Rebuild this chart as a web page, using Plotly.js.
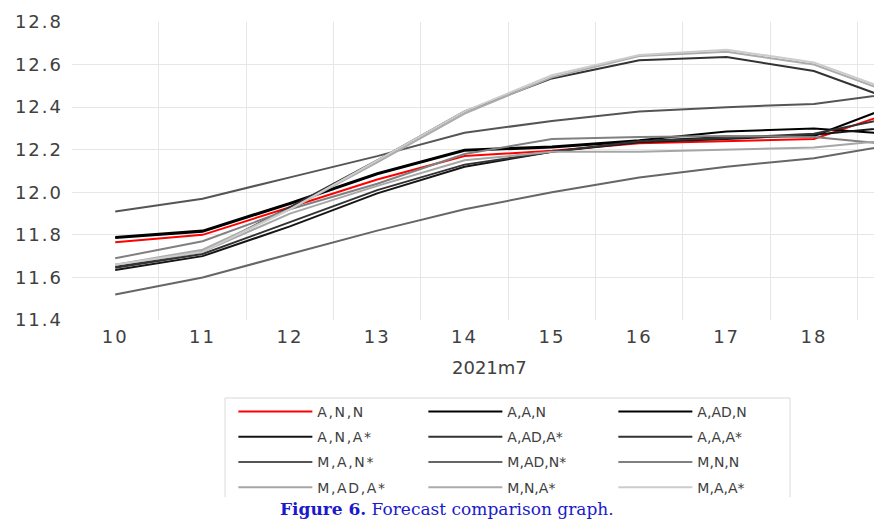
<!DOCTYPE html>
<html>
<head>
<meta charset="utf-8">
<script src="https://cdn.plot.ly/plotly-3.0.1.min.js"></script>
<style>
html,body{margin:0;padding:0;background:#fff;}
#chart{width:874px;height:519px;}
.legendtext{letter-spacing:1.6px;}
.ytick text{letter-spacing:2px;}
.xtick text{letter-spacing:2px;}
</style>
</head>
<body>
<div id="chart"></div>
<script>
// x positions (periods) – 19 lies just beyond the visible right edge
const periods = [10, 11, 12, 13, 14, 15, 16, 17, 18, 19];
const tickLabels = ['10', '11', '12', '13', '14', '15', '16', '17', '18'];
const seriesNames = ['A,N,N', 'A,A,N', 'A,AD,N', 'A,N,A*', 'A,AD,A*', 'A,A,A*',
                     'M,A,N*', 'M,AD,N*', 'M,N,N', 'M,AD,A*', 'M,N,A*', 'M,A,A*'];
const ANN   = [11.765, 11.80, 11.93, 12.06, 12.17, 12.195, 12.23, 12.24, 12.25, 12.39];
const AAN   = [11.79, 11.82, 11.95, 12.09, 12.20, 12.215, 12.245, 12.285, 12.30, 12.27];
const AADN  = [11.785, 11.815, 11.945, 12.085, 12.195, 12.21, 12.24, 12.26, 12.265, 12.42];
const ANAs  = [11.635, 11.70, 11.84, 11.995, 12.12, 12.19, 12.235, 12.25, 12.27, 12.31];
const AADAs = [11.645, 11.71, 11.86, 12.01, 12.13, 12.19, 12.24, 12.255, 12.275, 12.36];
const AAAs  = [11.65, 11.72, 11.93, 12.15, 12.38, 12.535, 12.62, 12.635, 12.57, 12.42];
const MANs  = [11.91, 11.97, 12.07, 12.17, 12.28, 12.335, 12.38, 12.40, 12.415, 12.47];
const MADNs = [11.52, 11.60, 11.71, 11.82, 11.92, 12.00, 12.07, 12.12, 12.16, 12.23];
const MNN   = [11.69, 11.77, 11.92, 12.04, 12.18, 12.25, 12.26, 12.265, 12.26, 12.22];
const MADAs = [11.66, 11.72, 11.90, 12.03, 12.15, 12.19, 12.19, 12.20, 12.21, 12.25];
const MNAs  = [11.66, 11.73, 11.92, 12.14, 12.37, 12.54, 12.64, 12.66, 12.60, 12.45];
const MAAs  = [11.66, 11.72, 11.92, 12.15, 12.38, 12.55, 12.645, 12.67, 12.61, 12.46];

const seriesValues = [ANN, AAN, AADN, ANAs, AADAs, AAAs, MANs, MADNs, MNN, MADAs, MNAs, MAAs];
const seriesColors = ['#ff0000', '#000000', '#000000', '#151515', '#333333', '#333333',
                      '#555555', '#666666', '#808080', '#a6a6a6', '#ababab', '#cccccc'];
const legendIds = ['legend', 'legend2', 'legend3'];

const traces = seriesNames.map((name, i) => ({
  type: 'scatter', mode: 'lines', name: name,
  x: periods, y: seriesValues[i],
  line: {color: seriesColors[i], width: 2},
  legend: legendIds[i % 3],
  legendgroup: 'g' + i,
  hoverinfo: 'skip'
}));

const legendFont = {family: 'DejaVu Sans', size: 14, color: '#404040'};
function mkLegend(x) {
  return {x: x, y: -0.255, xanchor: 'left', yanchor: 'top', orientation: 'v',
          font: legendFont, bgcolor: 'rgba(0,0,0,0)', borderwidth: 0,
          itemwidth: 74, tracegroupgap: 4, itemclick: false, itemdoubleclick: false};
}

const layout = {
  width: 874, height: 519,
  margin: {l: 72, r: 0, t: 22, b: 199},
  paper_bgcolor: '#ffffff', plot_bgcolor: '#ffffff',
  showlegend: true,
  xaxis: {
    range: [9.505, 18.688], tickmode: 'array', tickvals: periods.slice(0, 9), ticktext: tickLabels,
    showgrid: false, zeroline: false, showline: false, ticks: '',
    tickfont: {family: 'DejaVu Sans', size: 18, color: '#404040'},
    ticklabelstandoff: 4,
    minor: {tick0: 0.5, dtick: 1, showgrid: true, gridcolor: '#e6e6e6', gridwidth: 1, ticks: ''}
  },
  yaxis: {
    range: [11.4, 12.8], dtick: 0.2, tick0: 11.4, tickformat: '.1f',
    showgrid: true, gridcolor: '#e6e6e6', gridwidth: 1, zeroline: false, showline: false, ticks: '',
    tickfont: {family: 'DejaVu Sans', size: 18, color: '#404040'},
    ticklabelstandoff: 8
  },
  legend: mkLegend(0.2012),
  legend2: mkLegend(0.4381),
  legend3: mkLegend(0.675),
  shapes: [{
    type: 'path', xref: 'paper', yref: 'paper',
    path: 'M 0.1908 -0.594 L 0.1908 -0.2617 L 0.8953 -0.2617 L 0.8953 -0.594',
    line: {color: '#d9d9d9', width: 1}
  }],
  annotations: [
    {text: '2021m7', xref: 'paper', yref: 'paper', x: 0.521, y: -0.158, showarrow: false,
     xanchor: 'center', yanchor: 'middle', font: {family: 'DejaVu Sans', size: 18, color: '#404040'}},
    {text: '<b>Figure 6.</b> Forecast comparison graph.', xref: 'paper', yref: 'paper',
     x: 0.4676, y: -0.634, showarrow: false, xanchor: 'center', yanchor: 'middle',
     bgcolor: '#ffffff', font: {family: 'DejaVu Serif', size: 17, color: '#1a1acc'}}
  ]
};

Plotly.newPlot('chart', traces, layout, {displayModeBar: false, staticPlot: true});
</script>
</body>
</html>
